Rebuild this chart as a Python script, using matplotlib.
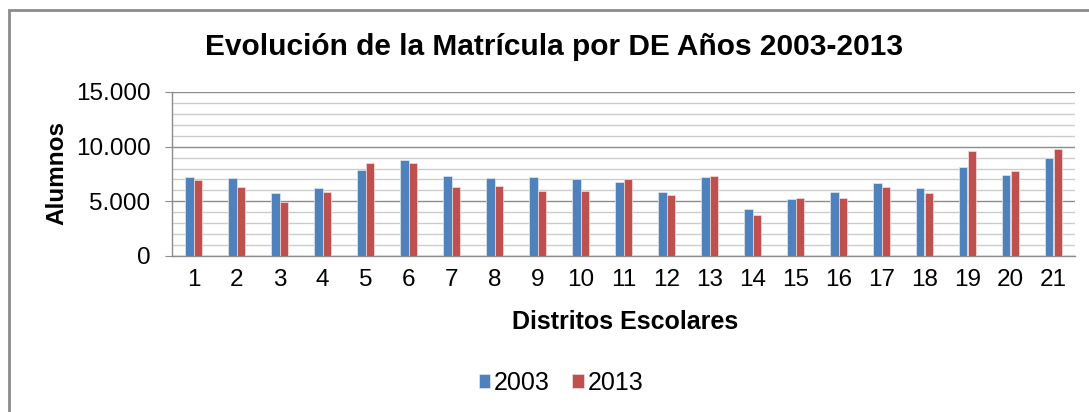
import matplotlib
matplotlib.use("Agg")
import matplotlib.pyplot as plt
import numpy as np
from matplotlib.patches import Rectangle

plt.rcParams["font.family"] = ["Liberation Sans", "DejaVu Sans"]

districts = [str(i) for i in range(1, 22)]
y2003 = [7220, 7130, 5720, 6180, 7860, 8810, 7340, 7130, 7220, 7000, 6790,
         5840, 7220, 4280, 5230, 5840, 6700, 6180, 8170, 7430, 8960]
y2013 = [6940, 6270, 4980, 5840, 8500, 8500, 6270, 6390, 5960, 5960, 7000,
         5540, 7340, 3730, 5350, 5350, 6270, 5750, 9570, 7770, 9760]
series = ["2003", "2013"]
C_BLUE = "#4F81BD"
C_RED = "#C0504D"

W, H = 1089, 412
fig = plt.figure(figsize=(W / 100, H / 100), dpi=100)
ax = fig.add_axes([172 / W, 1 - 256 / H, (1075 - 172) / W, (256 - 92) / H])

x = np.arange(len(districts))
bw = 0.2
ax.bar(x - bw / 2, y2003, bw, color=C_BLUE, label=series[0],
       edgecolor="#dfe6f0", linewidth=0.5, zorder=3)
ax.bar(x + bw / 2, y2013, bw, color=C_RED, label=series[1],
       edgecolor="#f0dede", linewidth=0.5, zorder=3)

ax.set_xlim(-0.5, len(districts) - 0.5)
ax.set_ylim(0, 15000)
ax.set_yticks([0, 5000, 10000, 15000])
ax.set_yticklabels(["0", "5.000", "10.000", "15.000"], fontsize=17.5)
ax.set_yticks(np.arange(0, 15001, 1000), minor=True)
ax.set_xticks(x)
ax.set_xticklabels(districts, fontsize=17.5)
ax.grid(axis="y", which="major", color="#8c8c8c", lw=1.0, zorder=0)
ax.grid(axis="y", which="minor", color="#cccccc", lw=1.0, zorder=0)
ax.tick_params(axis="y", which="major", length=5, color="#8c8c8c", pad=10.5)
ax.tick_params(axis="y", which="minor", length=0)
ax.tick_params(axis="x", length=0, pad=9)
for s in ("top", "right"):
    ax.spines[s].set_visible(False)
for s in ("left", "bottom"):
    ax.spines[s].set_color("#8c8c8c")
    ax.spines[s].set_linewidth(1.0)

fig.text(57 / W, 1 - 173 / H, "Alumnos", fontsize=17.5, fontweight="bold",
         rotation=90, ha="center", va="center")
fig.text(625 / W, 1 - 322 / H, "Distritos Escolares", fontsize=18,
         fontweight="bold", ha="center", va="center")
fig.text(554 / W, 1 - 55 / H, "Evolución de la Matrícula por DE Años 2003-2013",
         fontsize=21.5, fontweight="bold", ha="center", va="baseline")

fig.legend(loc="center", bbox_to_anchor=(561 / W, 1 - 383 / H), ncol=2,
           frameon=False, fontsize=18, handlelength=0.45, handleheight=0.45,
           handletextpad=0.15, columnspacing=0.9)

fig.patches.append(Rectangle((9 / W, -0.1), 1.2, 1 - 10 / H + 0.1,
                             transform=fig.transFigure, fill=False,
                             edgecolor="#8c8c8c", lw=2.0))

fig.savefig("out.png", dpi=100)
